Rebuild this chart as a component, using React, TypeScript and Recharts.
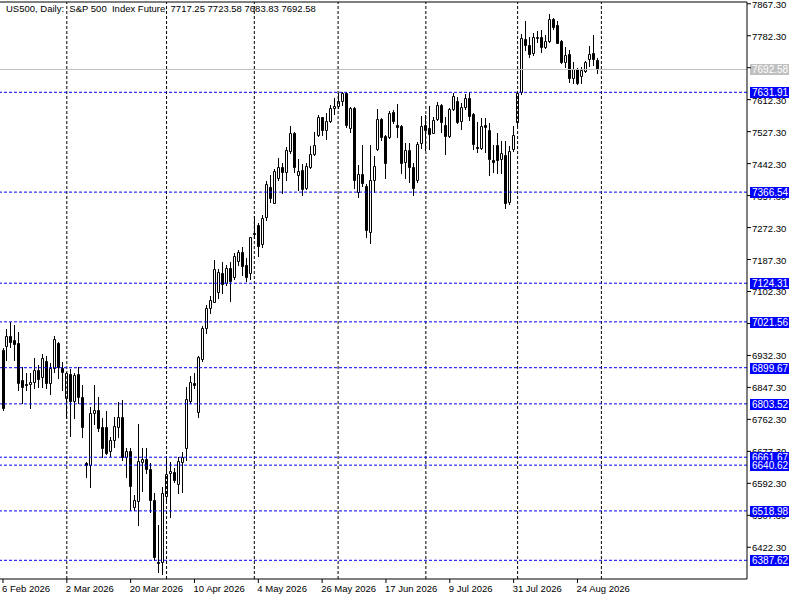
import React from "react";
import { ComposedChart, Bar, XAxis, YAxis, ReferenceLine } from "recharts";

// daily OHLC (bar 0 = 6 Feb 2026)
const opens = [
  6947, 6957.4, 6984.0, 6973.3, 6965.4, 6867.0, 6856.4, 6856.4, 6861.7, 6893.6,
  6875.0, 6917.5, 6859.0, 6898.9, 6965.4, 6898.9, 6819.1, 6882.9, 6811.2, 6882.9,
  6821.8, 6646.3, 6641.0, 6779.3, 6787.2, 6742.0, 6742.0, 6678.2, 6707.4, 6742.0,
  6768.6, 6662.3, 6678.2, 6529.3, 6545.3, 6649.0, 6656.9, 6630.4, 6547.9, 6383.1,
  6383.1, 6558.6, 6619.8, 6622.4, 6590.5, 6649.0, 6686.2, 6811.2, 6859.0, 6781.9,
  6922.8, 7005.3, 7058.4, 7074.4, 7101.0, 7151.5, 7124.9, 7164.8, 7140.8, 7183.4,
  7207.3, 7172.7, 7151.5, 7257.8, 7279.1, 7228.6, 7300.4, 7380.1, 7337.6, 7404.1,
  7433.3, 7420.0, 7475.8, 7523.7, 7412.0, 7425.3, 7377.5, 7433.3, 7467.9, 7518.4,
  7566.2, 7531.7, 7555.6, 7590.2, 7595.5, 7608.8, 7631.0, 7537.0, 7590.2, 7366.8,
  7414.7, 7382.8, 7260.5, 7398.7, 7481.1, 7560.9, 7515.7, 7513.1, 7579.5, 7544.9,
  7542.3, 7446.6, 7478.5, 7433.3, 7398.7, 7497.1, 7544.9, 7537.0, 7523.7, 7560.9,
  7598.1, 7544.9, 7515.7, 7587.5, 7608.8, 7555.6, 7592.8, 7616.8, 7574.2, 7486.5,
  7483.8, 7544.9, 7531.7, 7451.9, 7491.8, 7454.6, 7465.2, 7340.2, 7481.1, 7552.9,
  7632.7, 7773.6, 7757.7, 7736.4, 7776.3, 7779.0, 7752.3, 7768.3, 7826.8, 7810.8,
  7768.3, 7712.5, 7733.7, 7669.9, 7693.9, 7675.2, 7688.5, 7720.4, 7736.4, 7717.25,
];
const highs = [
  6952, 7002.6, 7021.2, 7013.2, 6994.6, 6901.6, 6885.6, 6885.6, 6925.5, 6906.9,
  6936.1, 6930.8, 6912.2, 6984.0, 6968.0, 6914.8, 6888.3, 6896.3, 6885.6, 6901.6,
  6853.7, 6649.0, 6795.2, 6853.7, 6821.8, 6766.0, 6784.6, 6715.4, 6768.6, 6808.5,
  6813.8, 6686.2, 6686.2, 6561.3, 6750.0, 6686.2, 6686.2, 6646.3, 6566.6, 6481.5,
  6582.5, 6662.3, 6649.0, 6633.0, 6662.3, 6675.6, 6848.4, 6877.6, 6885.6, 6930.0,
  7010.5, 7066.4, 7090.3, 7186.0, 7162.1, 7180.7, 7172.7, 7180.7, 7204.7, 7212.6,
  7220.6, 7191.4, 7247.2, 7303.0, 7284.4, 7305.7, 7396.1, 7412.0, 7428.0, 7457.2,
  7443.9, 7486.5, 7542.3, 7526.3, 7454.6, 7441.3, 7443.9, 7489.1, 7526.3, 7571.5,
  7566.2, 7576.9, 7598.1, 7616.8, 7630.0, 7631.9, 7631.9, 7592.8, 7592.8, 7438.6,
  7491.8, 7388.1, 7491.8, 7462.5, 7587.5, 7563.6, 7518.4, 7582.2, 7584.9, 7600.8,
  7544.9, 7497.1, 7497.1, 7443.9, 7499.8, 7568.9, 7571.5, 7595.5, 7566.2, 7606.1,
  7600.8, 7566.2, 7590.2, 7630.0, 7619.4, 7603.5, 7627.4, 7631.9, 7576.9, 7552.9,
  7563.6, 7563.6, 7550.3, 7491.8, 7523.7, 7502.4, 7502.4, 7489.1, 7542.3, 7632.7,
  7786.9, 7821.5, 7779.0, 7789.6, 7794.9, 7797.5, 7784.2, 7840.1, 7829.4, 7821.5,
  7770.9, 7752.3, 7744.4, 7712.5, 7696.5, 7699.2, 7715.1, 7755.0, 7784.2, 7723.58,
];
const lows = [
  6787, 6920.2, 6954.7, 6920.2, 6840.4, 6805.8, 6840.4, 6792.6, 6845.7, 6848.4,
  6848.4, 6845.7, 6829.8, 6888.3, 6872.3, 6840.4, 6766.0, 6718.1, 6766.0, 6805.8,
  6715.4, 6609.1, 6582.5, 6750.0, 6731.4, 6662.3, 6670.0, 6664.9, 6688.9, 6715.4,
  6654.3, 6609.1, 6521.4, 6521.4, 6481.5, 6571.9, 6619.8, 6516.1, 6388.4, 6356.5,
  6351.2, 6547.9, 6502.8, 6595.8, 6566.6, 6569.2, 6654.3, 6805.8, 6845.7, 6768.6,
  6917.5, 6992.0, 7045.1, 7074.4, 7085.0, 7098.3, 7119.6, 7077.0, 7135.5, 7172.7,
  7146.2, 7130.2, 7135.5, 7244.5, 7196.7, 7220.6, 7292.4, 7340.2, 7337.6, 7398.7,
  7364.2, 7398.7, 7470.5, 7420.0, 7372.2, 7358.9, 7374.8, 7430.6, 7465.2, 7515.7,
  7518.4, 7507.7, 7552.9, 7574.2, 7590.2, 7598.1, 7539.7, 7526.3, 7377.5, 7353.6,
  7382.8, 7247.2, 7231.2, 7366.8, 7478.5, 7505.1, 7404.1, 7510.4, 7550.3, 7513.1,
  7417.3, 7404.1, 7393.4, 7358.9, 7393.4, 7483.8, 7478.5, 7481.1, 7523.7, 7558.3,
  7526.3, 7467.9, 7513.1, 7584.9, 7550.3, 7534.3, 7587.5, 7558.3, 7481.1, 7473.2,
  7481.1, 7473.2, 7412.0, 7420.0, 7417.3, 7417.3, 7324.3, 7334.9, 7475.8, 7542.3,
  7627.4, 7744.4, 7725.8, 7731.1, 7765.6, 7739.0, 7749.7, 7765.6, 7800.2, 7763.0,
  7709.8, 7699.2, 7659.3, 7656.6, 7654.0, 7656.6, 7685.9, 7701.8, 7704.5, 7683.83,
];
const closes = [
  6793, 6984.0, 6968.0, 6962.7, 6859.0, 6848.4, 6853.7, 6861.7, 6893.6, 6869.7,
  6925.5, 6859.0, 6898.9, 6976.0, 6901.6, 6888.3, 6885.6, 6811.2, 6880.3, 6821.8,
  6742.0, 6641.0, 6779.3, 6787.2, 6739.4, 6686.2, 6672.9, 6707.4, 6744.7, 6768.6,
  6662.3, 6678.2, 6585.1, 6547.9, 6651.6, 6656.9, 6630.4, 6547.9, 6396.4, 6380.5,
  6566.6, 6617.1, 6625.1, 6601.1, 6651.6, 6662.3, 6816.5, 6861.7, 6853.7, 6928.2,
  7005.3, 7058.4, 7079.7, 7162.1, 7154.1, 7122.2, 7164.8, 7130.2, 7196.7, 7207.3,
  7170.1, 7140.8, 7247.2, 7255.2, 7223.3, 7297.7, 7388.1, 7350.9, 7422.7, 7433.3,
  7420.0, 7478.5, 7523.7, 7433.3, 7422.7, 7374.8, 7435.9, 7467.9, 7491.8, 7566.2,
  7531.7, 7555.6, 7590.2, 7595.5, 7608.8, 7630.5, 7544.9, 7590.2, 7398.7, 7414.7,
  7390.8, 7265.8, 7398.7, 7435.9, 7560.9, 7513.1, 7443.9, 7576.9, 7555.6, 7539.7,
  7443.9, 7478.5, 7433.3, 7377.5, 7494.5, 7542.3, 7531.7, 7521.0, 7558.3, 7598.1,
  7552.9, 7515.7, 7587.5, 7622.1, 7552.9, 7592.8, 7616.8, 7568.9, 7494.5, 7483.8,
  7542.3, 7539.7, 7454.6, 7446.6, 7451.9, 7470.5, 7337.6, 7475.8, 7518.4, 7631.0,
  7776.3, 7757.7, 7733.7, 7779.0, 7779.0, 7752.3, 7768.3, 7826.8, 7805.5, 7763.0,
  7712.5, 7731.1, 7669.9, 7693.9, 7656.6, 7691.2, 7712.5, 7733.7, 7720.4, 7692.58,
];

const dateLabels = [
  "6 Feb 2026", "2 Mar 2026", "20 Mar 2026", "10 Apr 2026", "4 May 2026",
  "26 May 2026", "17 Jun 2026", "9 Jul 2026", "31 Jul 2026", "24 Aug 2026",
];
const dateTickBars = [0, 16, 32, 48, 64, 80, 96, 112, 128, 144];
const gridBars = [16, 41, 63, 84, 106, 129, 150];

const priceTicks = [
  6422.3, 6507.3, 6592.3, 6677.3, 6762.3, 6847.3, 6932.3, 7017.3, 7102.3,
  7187.3, 7272.3, 7357.3, 7442.3, 7527.3, 7612.3, 7697.3, 7782.3, 7867.3,
];
// scale numbers that sit entirely under a price tag in the reference
const coveredTicks = [7017.3, 7697.3];
const priceLevels = [
  7631.91, 7366.54, 7124.31, 7021.56, 6899.67, 6803.52, 6661.67, 6640.62,
  6518.98, 6387.62,
];
const lastPrice = 7692.58;
const yMin = 6337.9;
const yMax = 7872.0;
const totalSlots = 187;

const FONT = "'Liberation Sans', Arial, sans-serif";

const data = Array.from({ length: totalSlots }, (_, i) =>
  i < opens.length
    ? {
        i,
        open: opens[i],
        high: highs[i],
        low: lows[i],
        close: closes[i],
        range: [lows[i], highs[i]],
      }
    : { i }
);

function Candle(props: any) {
  const { x, y, width, height, payload } = props;
  if (!payload || payload.open == null) return null;
  const { open, close, high, low } = payload;
  const top = Math.min(y, y + height);
  const h = Math.abs(height);
  const toY = (v: number) =>
    high === low ? top : top + ((high - v) / (high - low)) * h;
  const c = Math.floor(x + width / 2);
  const bull = close >= open;
  const yHi = Math.round(top);
  const yLo = Math.round(top + h);
  const bTop = Math.round(toY(Math.max(open, close)));
  const bBot = Math.round(toY(Math.min(open, close)));
  const bh = Math.max(bBot - bTop, 0);
  return (
    <g>
      <line x1={c + 0.5} x2={c + 0.5} y1={yHi} y2={yLo + 1} stroke="#000" strokeWidth={1} />
      <path
        d={`M${c - 0.5},${bTop + 0.5}h2v${bh}h-2Z`}
        fill={bull ? "#fff" : "#000"}
        stroke="#000"
        strokeWidth={1}
      />
    </g>
  );
}

// right-hand scale numbers, drawn as labels so the price tags can sit on top
function ScaleText(props: any) {
  const { viewBox, price } = props;
  if (!viewBox) return null;
  return (
    <text
      x={viewBox.x + viewBox.width + 5}
      y={Math.round(viewBox.y) + 3.5}
      fill="#000"
      fontSize={9.5}
      fontFamily={FONT}
    >
      {price.toFixed(2)}
    </text>
  );
}

function PriceTag(props: any) {
  const { viewBox, price, bg } = props;
  if (!viewBox) return null;
  const x = viewBox.x + viewBox.width + 3;
  const y = Math.round(viewBox.y);
  return (
    <g>
      <rect x={x} y={y - 5} width={39} height={11} fill={bg} />
      <text x={x + 2} y={y + 4} fill="#fff" fontSize={10} fontFamily={FONT}>
        {price.toFixed(2)}
      </text>
    </g>
  );
}

function NoTick() {
  return null;
}

function DateTick(props: any) {
  const { x, payload } = props;
  const k = dateTickBars.indexOf(payload.value);
  if (k < 0) return null;
  return (
    <text x={x - 1} y={592} textAnchor="start" fill="#000" fontSize={9.5} fontFamily={FONT}>
      {dateLabels[k]}
    </text>
  );
}

export default function App() {
  return (
    <div style={{ position: "absolute", left: 0, top: 0, width: 800, height: 600, background: "#fff" }}>
      <ComposedChart
        width={800}
        height={600}
        data={data}
        margin={{ top: 2, right: 0, left: 0, bottom: 0 }}
        barCategoryGap={0}
      >
        <XAxis
          dataKey="i"
          type="category"
          ticks={dateTickBars}
          interval={0}
          padding={{ left: 1, right: 0 }}
          height={21}
          tickSize={4}
          tickLine={{ stroke: "#000" }}
          axisLine={{ stroke: "#000" }}
          tick={<DateTick />}
        />
        <YAxis
          orientation="right"
          type="number"
          domain={[yMin, yMax]}
          ticks={priceTicks}
          allowDataOverflow
          width={53}
          tickSize={4}
          tickLine={{ stroke: "#000" }}
          axisLine={{ stroke: "#000" }}
          tick={<NoTick />}
        />
        <ReferenceLine y={yMax} stroke="#000" />
        {gridBars.map((b) => (
          <ReferenceLine key={"g" + b} x={b} stroke="#000" strokeDasharray="3 2" />
        ))}
        {priceTicks
          .filter((t) => !coveredTicks.includes(t))
          .map((t) => (
            <ReferenceLine
              key={"t" + t}
              y={t}
              stroke="none"
              label={<ScaleText price={t} />}
            />
          ))}
        <ReferenceLine
          y={lastPrice}
          stroke="#c0c0c0"
          label={<PriceTag price={lastPrice} bg="#c0c0c0" />}
        />
        {priceLevels.map((lvl) => (
          <ReferenceLine
            key={"l" + lvl}
            y={lvl}
            stroke="#0000ff"
            strokeDasharray="3 2"
            label={<PriceTag price={lvl} bg="#0000ff" />}
          />
        ))}
        <Bar dataKey="range" shape={<Candle />} isAnimationActive={false} />
      </ComposedChart>
      <div
        style={{
          position: "absolute",
          left: 6,
          top: 3,
          fontFamily: FONT,
          fontSize: 9.5,
          color: "#000",
          whiteSpace: "pre",
        }}
      >
        {"US500, Daily:  S&P 500  Index Future  7717.25 7723.58 7683.83 7692.58"}
      </div>
    </div>
  );
}
